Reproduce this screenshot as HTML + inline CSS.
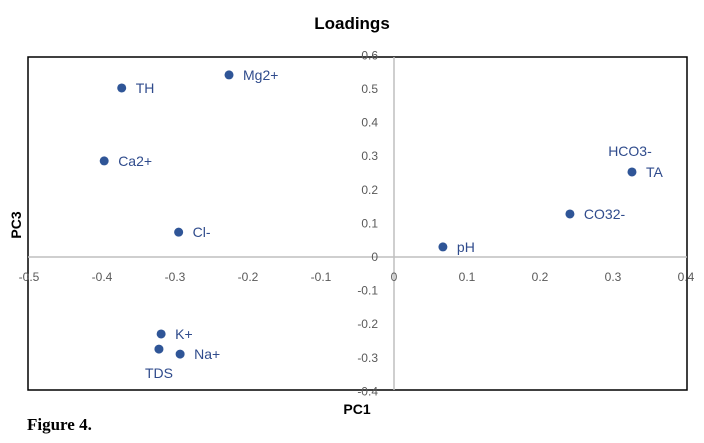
<!DOCTYPE html>
<html><head><meta charset="utf-8"><style>
body{margin:0;background:#fff;width:704px;height:443px;overflow:hidden}
svg{display:block;font-family:"Liberation Sans",sans-serif}
</style></head><body>
<svg width="704" height="443">
<text x="352" y="29" text-anchor="middle" font-size="17" font-weight="bold" fill="#000">Loadings</text>
<rect x="28" y="57" width="659" height="333" fill="none" stroke="#000" stroke-width="1.5"/>
<g id="axes"></g>
<g id="marks"></g>
<text x="357" y="414" text-anchor="middle" font-size="14" font-weight="bold">PC1</text>
<text transform="translate(21,225) rotate(-90)" text-anchor="middle" font-size="14" font-weight="bold">PC3</text>
<text x="27" y="430" font-family="Liberation Serif,serif" font-size="17" font-weight="bold">Figure 4.</text>
</svg>
<script>
const labels=["TH","Mg2+","Ca2+","Cl-","pH","CO32-","TA","K+","TDS","Na+"];
const pc1=[-0.373,-0.226,-0.397,-0.295,0.067,0.241,0.326,-0.319,-0.322,-0.293];
const pc3=[0.503,0.542,0.286,0.074,0.03,0.128,0.253,-0.229,-0.274,-0.289];
const xTicks=[-0.5,-0.4,-0.3,-0.2,-0.1,0,0.1,0.2,0.3,0.4];
const yTicks=[0.6,0.5,0.4,0.3,0.2,0.1,0,-0.1,-0.2,-0.3,-0.4];
const xs=v=>394+v*730, ys=v=>257-v*336;
const NS="http://www.w3.org/2000/svg";
const ax=document.getElementById('axes'), mk=document.getElementById('marks');
function mkEl(t,a,p,txt){const e=document.createElementNS(NS,t);for(const k in a)e.setAttribute(k,a[k]);if(txt!==undefined)e.textContent=txt;p.appendChild(e);return e;}
let e=mkEl('line',{x1:28,x2:687,y1:ys(0),y2:ys(0),stroke:'#bfbfbf','stroke-width':1.5},ax);


e=mkEl('line',{x1:xs(0),x2:xs(0),y1:57,y2:390,stroke:'#bfbfbf','stroke-width':1.5},ax);


xTicks.forEach(t=>{
 const el=mkEl('text',{x:xs(t),y:ys(0)+24,'text-anchor':'middle','font-size':12,fill:'#595959'},ax,String(t));
 
 
});
yTicks.forEach(t=>{
 const el=mkEl('text',{x:xs(0)-16,y:ys(t)+4,'text-anchor':'end','font-size':12,fill:'#595959'},ax,String(t));
 
 
});
labels.forEach((l,i)=>{
 const cx=xs(pc1[i]),cy=ys(pc3[i]);
 const c=mkEl('circle',{cx:cx,cy:cy,r:4.5,fill:'#2f5597'},mk);
 
 
 let tx=cx+14,ty=cy+5,anc='start';
 if(l==='TDS'){tx=cx;ty=cy+29;anc='middle';}
 const t=mkEl('text',{x:tx,y:ty,'text-anchor':anc,'font-size':14,fill:'#2f4b8c'},mk,l);
 
 
 if(l==='TA'){
  const h=mkEl('text',{x:cx-2,y:cy-16,'text-anchor':'middle','font-size':14,fill:'#2f4b8c'},mk,'HCO3-');
  
  
 }
});
</script>
</body></html>
